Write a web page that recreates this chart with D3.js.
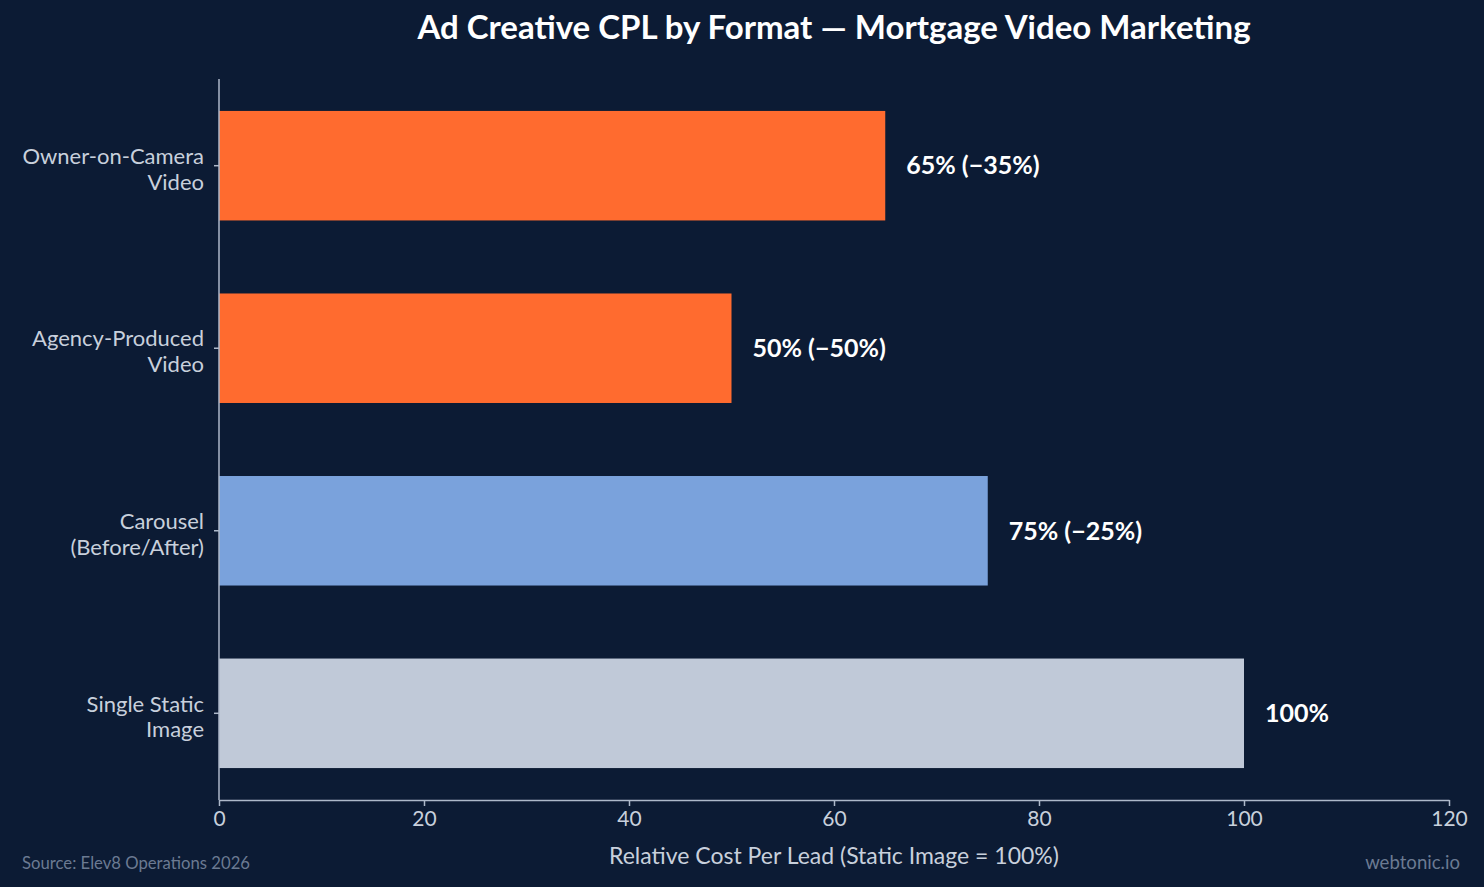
<!DOCTYPE html>
<html>
<head>
<meta charset="utf-8">
<script src="https://cdn.jsdelivr.net/npm/d3@7"></script>
<style>
  html, body { margin: 0; padding: 0; background: #0c1b34; }
  svg { display: block; font-family: Lato, "Open Sans", sans-serif; }
</style>
</head>
<body>
<div id="chart"></div>
<script>
// Chart data
var categories = [["Owner-on-Camera", "Video"], ["Agency-Produced", "Video"], ["Carousel", "(Before/After)"], ["Single Static", "Image"]];
var values = [65, 50, 75, 100];
var valueLabels = ["65% (\u221235%)", "50% (\u221250%)", "75% (\u221225%)", "100%"];
var barColors = ["#ff6b2f", "#ff6b2f", "#7aa2dc", "#c0c9d8"];
var xTicks = [0, 20, 40, 60, 80, 100, 120];

var W = 1484, H = 887;
var margin = {top: 79, right: 35, bottom: 87, left: 219};
var width = W - margin.left - margin.right,
    height = H - margin.top - margin.bottom;

var svg = d3.select("#chart")
  .append("svg")
    .attr("width", W)
    .attr("height", H);

svg.append("rect").attr("width", W).attr("height", H).attr("fill", "#0c1b34");

var g = svg.append("g")
  .attr("transform", "translate(" + margin.left + "," + margin.top + ")");

var x = d3.scaleLinear().domain([0, 120]).range([0, width]);
var y = d3.scaleBand()
  .domain(d3.range(values.length))
  .range([0, height])
  .paddingInner(0.4)
  .paddingOuter(0.175);

// Bars
g.selectAll("rect.bar")
  .data(values)
  .enter()
  .append("rect")
    .attr("class", "bar")
    .attr("x", x(0))
    .attr("y", function(d, i) { return y(i); })
    .attr("width", function(d) { return x(d) - x(0); })
    .attr("height", y.bandwidth())
    .attr("fill", function(d, i) { return barColors[i]; });

// Value labels
g.selectAll("text.val")
  .data(values)
  .enter()
  .append("text")
    .attr("class", "val")
    .attr("x", function(d) { return x(d) + 21; })
    .attr("y", function(d, i) { return y(i) + y.bandwidth() / 2; })
    .attr("dy", "0.35em")
    .attr("fill", "#ffffff")
    .attr("font-size", 25)
    .attr("font-weight", "bold")
    .text(function(d, i) { return valueLabels[i]; });

var axisColor = "#aeb9ca";

// X axis
var xAxis = g.append("g")
  .attr("transform", "translate(0," + height + ")")
  .call(d3.axisBottom(x).tickValues(xTicks).tickSize(6).tickPadding(5).tickSizeOuter(0));
xAxis.select(".domain").attr("stroke", axisColor).attr("stroke-width", 1.5);
xAxis.selectAll(".tick line").attr("stroke", axisColor).attr("stroke-width", 1.5);
xAxis.selectAll(".tick text").attr("fill", "#c8d0dc").attr("font-size", 21).attr("font-family", "Lato");

// Y axis
var yAxis = g.append("g")
  .call(d3.axisLeft(y).tickSize(5).tickSizeOuter(0).tickFormat(""));
yAxis.select(".domain").attr("stroke", axisColor).attr("stroke-width", 1.5)
  .attr("d", "M0," + height + "V0");
yAxis.selectAll(".tick line").attr("stroke", axisColor).attr("stroke-width", 1.5);

// Y labels, two lines each
yAxis.selectAll(".tick").each(function(d) {
  var t = d3.select(this).select("text")
    .attr("x", -15)
    .attr("fill", "#c8d0dc")
    .attr("font-size", 22)
    .attr("font-family", "Lato")
    .attr("text-anchor", "end");
  t.selectAll("tspan")
    .data(categories[d])
    .enter()
    .append("tspan")
      .attr("x", -15)
      .attr("y", function(s, j) { return -9.5 + j * 26; })
      .attr("dy", "0.35em")
      .text(function(s) { return s; });
});

// Title
svg.append("text")
  .attr("x", margin.left + width / 2)
  .attr("y", 39)
  .attr("text-anchor", "middle")
  .attr("fill", "#ffffff")
  .attr("font-size", 33)
  .attr("font-weight", "bold")
  .text("Ad Creative CPL by Format \u2014 Mortgage Video Marketing");

// X axis label
svg.append("text")
  .attr("x", margin.left + width / 2)
  .attr("y", 864)
  .attr("text-anchor", "middle")
  .attr("fill", "#c8d0dc")
  .attr("font-size", 23)
  .text("Relative Cost Per Lead (Static Image = 100%)");

// Footer
svg.append("text")
  .attr("x", 22)
  .attr("y", 869)
  .attr("fill", "#6b7a92")
  .attr("font-size", 16.7)
  .text("Source: Elev8 Operations 2026");

svg.append("text")
  .attr("x", 1460)
  .attr("y", 869)
  .attr("text-anchor", "end")
  .attr("fill", "#6b7a92")
  .attr("font-size", 18.6)
  .text("webtonic.io");
</script>
</body>
</html>
